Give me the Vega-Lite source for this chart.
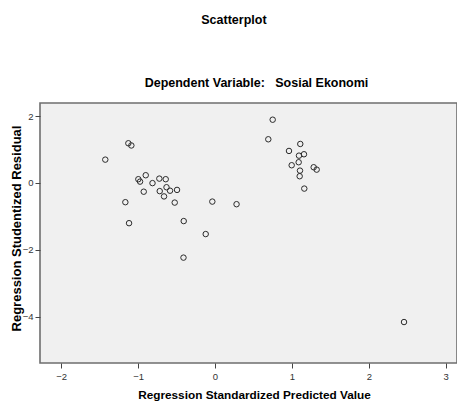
{
  "$schema": "https://vega.github.io/schema/vega-lite/v6.json",
  "autosize": {"type": "none"},
  "padding": {"left": 40, "top": 103, "right": 0, "bottom": 40},
  "width": 417,
  "height": 260,
  "background": "white",
  "title": {
    "text": "Scatterplot\u00a0\u00a0\u00a0\u00a0\u00a0\u00a0\u00a0\u00a0\u00a0\u00a0\u00a0\u00a0\u00a0\u200b",
    "subtitle": "Dependent Variable:\u00a0\u00a0 Sosial Ekonomi",
    "font": "Liberation Sans",
    "fontSize": 12.5,
    "fontWeight": "bold",
    "color": "#000000",
    "subtitleFont": "Liberation Sans",
    "subtitleFontSize": 12.5,
    "subtitleFontWeight": "bold",
    "subtitleColor": "#000000",
    "subtitlePadding": 50,
    "anchor": "middle",
    "dx": 8,
    "offset": 14
  },
  "config": {
    "view": {"stroke": "#6e6e6e", "strokeWidth": 1.6, "fill": "#f0f0f0"},
    "axis": {
      "grid": false,
      "domain": false,
      "tickColor": "#444444",
      "tickSize": 5,
      "labelFont": "Liberation Sans",
      "labelFontSize": 9.5,
      "labelColor": "#333333",
      "titleFont": "Liberation Sans",
      "titleFontWeight": "bold",
      "titleColor": "#000000"
    }
  },
  "data": {
    "values": [
      {"pred": -1.427, "resid": 0.697},
      {"pred": -1.127, "resid": 1.187},
      {"pred": -1.088, "resid": 1.121},
      {"pred": -0.997, "resid": 0.111},
      {"pred": -0.975, "resid": 0.039},
      {"pred": -0.901, "resid": 0.230},
      {"pred": -0.813, "resid": -0.006},
      {"pred": -0.724, "resid": 0.129},
      {"pred": -0.641, "resid": 0.111},
      {"pred": -0.927, "resid": -0.263},
      {"pred": -0.719, "resid": -0.245},
      {"pred": -0.631, "resid": -0.129},
      {"pred": -0.585, "resid": -0.233},
      {"pred": -0.494, "resid": -0.209},
      {"pred": -0.663, "resid": -0.404},
      {"pred": -1.166, "resid": -0.577},
      {"pred": -0.524, "resid": -0.589},
      {"pred": -1.118, "resid": -1.205},
      {"pred": -0.035, "resid": -0.559},
      {"pred": 0.280, "resid": -0.637},
      {"pred": -0.407, "resid": -1.142},
      {"pred": -0.121, "resid": -1.531},
      {"pred": -0.410, "resid": -2.236},
      {"pred": 0.750, "resid": 1.892},
      {"pred": 0.693, "resid": 1.306},
      {"pred": 1.109, "resid": 1.166},
      {"pred": 0.962, "resid": 0.957},
      {"pred": 1.092, "resid": 0.816},
      {"pred": 1.157, "resid": 0.858},
      {"pred": 1.088, "resid": 0.619},
      {"pred": 0.997, "resid": 0.529},
      {"pred": 1.105, "resid": 0.368},
      {"pred": 1.101, "resid": 0.200},
      {"pred": 1.161, "resid": -0.170},
      {"pred": 1.283, "resid": 0.469},
      {"pred": 1.322, "resid": 0.398},
      {"pred": 2.458, "resid": -4.164}
    ]
  },
  "mark": {"type": "point", "shape": "circle", "filled": false, "size": 30, "stroke": "#2b2b2b", "strokeWidth": 1, "opacity": 1},
  "encoding": {
    "x": {
      "field": "pred",
      "type": "quantitative",
      "scale": {"domain": [-2.276, 3.147], "nice": false, "zero": false},
      "axis": {
        "title": "Regression Standardized Predicted Value",
        "titleFontSize": 11.8,
        "values": [-2, -1, 0, 1, 2, 3],
        "labelPadding": 3,
        "titleX": 214,
        "titlePadding": 9
      }
    },
    "y": {
      "field": "resid",
      "type": "quantitative",
      "scale": {"domain": [-5.39, 2.392], "nice": false, "zero": false},
      "axis": {
        "title": "Regression Studentized Residual",
        "titleFontSize": 13,
        "values": [-4, -2, 0, 2],
        "labelPadding": 2,
        "titleX": -17,
        "titleY": 125
      }
    }
  }
}
